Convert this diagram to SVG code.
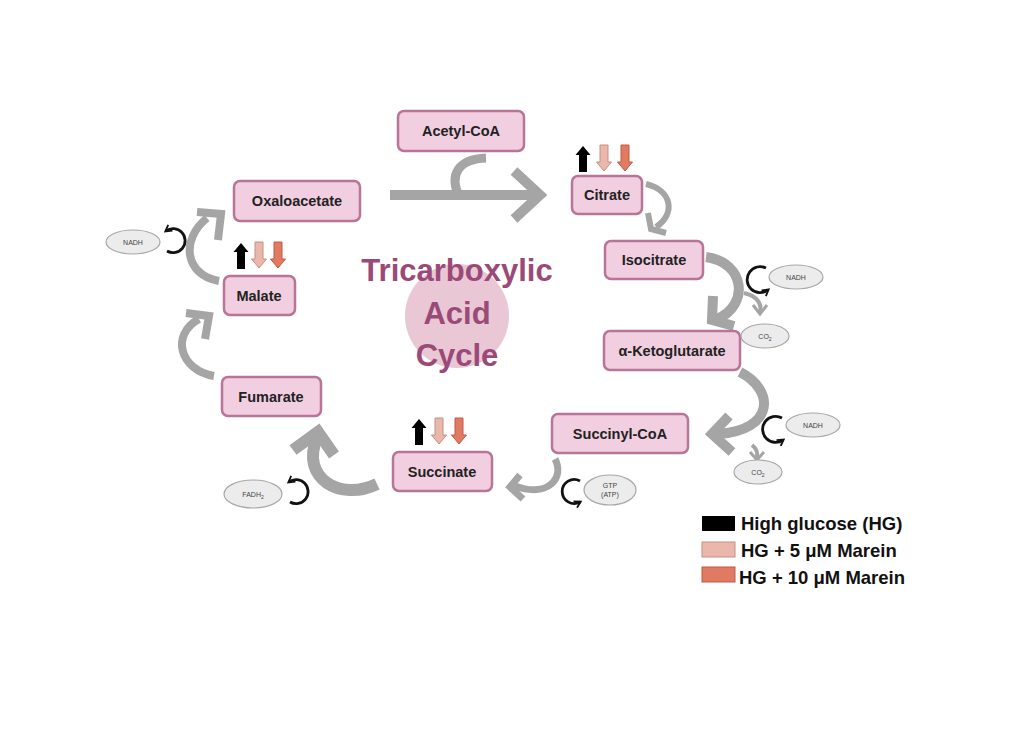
<svg xmlns="http://www.w3.org/2000/svg" width="1033" height="733" viewBox="0 0 1033 733">
<style>
.box{fill:#f1cfe0;stroke:#b97597;stroke-width:2.5}
.lbl{font-family:"Liberation Sans",Arial,sans-serif;font-weight:bold;font-size:14.5px;fill:#222;text-anchor:middle}
.title{font-family:"Liberation Sans",Arial,sans-serif;font-weight:bold;font-size:31px;fill:#9b4a78;text-anchor:middle}
.g{fill:none;stroke:#a5a5a5;stroke-linecap:butt;stroke-linejoin:miter}
.blk{fill:none;stroke:#111;stroke-width:2.8;marker-end:url(#bh)}
.ell{fill:#ececec;stroke:#a8a8a8;stroke-width:1.2}
.sm{font-family:"Liberation Sans",Arial,sans-serif;font-size:7px;fill:#444;text-anchor:middle}
.leg{font-family:"Liberation Sans",Arial,sans-serif;font-weight:bold;font-size:18.5px;fill:#111}
.up{fill:#000}
.p5{fill:#e9b7ab;stroke:#c98e83;stroke-width:1}
.p10{fill:#e07a62;stroke:#bf5a45;stroke-width:1}
</style>
<defs>
<marker id="bh" viewBox="0 0 10 10" refX="7" refY="5" markerWidth="3.2" markerHeight="3.2" orient="auto" markerUnits="strokeWidth">
<path d="M1,1 L8,5 L1,9" fill="none" stroke="#111" stroke-width="2"/>
</marker>
<path id="ua" d="M0,-13 L7.5,-4 L4,-4 L4,13 L-4,13 L-4,-4 L-7.5,-4 Z"/>
<path id="da" d="M0,13 L7.5,4 L4,4 L4,-13 L-4,-13 L-4,4 L-7.5,4 Z"/>
</defs>
<rect width="1033" height="733" fill="#fff"/>

<g id="center">
<circle cx="457" cy="316" r="52" fill="#e9c7d4"/>
<text class="title" x="457" y="281">Tricarboxylic</text>
<text class="title" x="457" y="324">Acid</text>
<text class="title" x="457" y="366">Cycle</text>
</g>

<g id="connectors">
<path class="g" stroke-width="10" d="M390,195 L540,195"/>
<path class="g" stroke-width="10" d="M514,171 L540,195 L514,219"/>
<path class="g" stroke-width="9" d="M459,196 C449,175 458,159 486,158"/>
<path class="g" stroke-width="6" d="M646,184 C672,190 676,214 656,227"/>
<path class="g" stroke-width="6" d="M648,213 L651,229 L666,233"/>
<path class="g" stroke-width="10" d="M706,257 C745,262 750,305 717,319"/>
<path class="g" stroke-width="10" d="M713,296 L712,320 L734,326"/>
<path class="g" stroke-width="4" d="M744,293 C758,296 762,305 760,312"/>
<path class="g" stroke-width="3" d="M753,305 L760,314 L767,305"/>
<path class="g" stroke-width="10" d="M740,372 C775,390 775,430 718,434"/>
<path class="g" stroke-width="10" d="M729,416 L712,434 L732,452"/>
<path class="g" stroke-width="4" d="M752,445 C757,449 758,453 757,458"/>
<path class="g" stroke-width="3" d="M750,452 L757,460 L764,452"/>
<path class="g" stroke-width="7" d="M555,459 C565,478 548,498 515,486"/>
<path class="g" stroke-width="7" d="M520,475 L510,487 L523,499"/>
<path class="g" stroke-width="12" d="M377,484 C340,502 300,478 317,438"/>
<path class="g" stroke-width="12" d="M293,450 L318,432 L334,455"/>
<path class="g" stroke-width="8" d="M214,376 C180,370 170,335 199,319"/>
<path class="g" stroke-width="8" d="M186,313 L209,316 L205,339"/>
<path class="g" stroke-width="8" d="M219,281 C185,275 180,240 207,218"/>
<path class="g" stroke-width="8" d="M197,212 L221,214 L218,240"/>
<path class="blk" d="M766,268 A13,13 0 1 0 768,290"/>
<path class="blk" d="M782,418 A13,13 0 1 0 783,440"/>
<path class="blk" d="M580,481 A12,12 0 1 0 580,502"/>
<path class="blk" d="M167,251 A12,12 0 1 0 166,231"/>
<path class="blk" d="M290,502 A12,12 0 1 0 289,482"/>
</g>

<g id="acetylcoa"><rect class="box" x="398" y="111" width="126" height="40" rx="6"/><text class="lbl" x="461" y="136">Acetyl-CoA</text></g>
<g id="oxaloacetate"><rect class="box" x="234" y="181" width="126" height="40" rx="6"/><text class="lbl" x="297" y="206">Oxaloacetate</text></g>
<g id="citrate"><rect class="box" x="572" y="176" width="70" height="38" rx="6"/><text class="lbl" x="607" y="200">Citrate</text></g>
<g id="isocitrate"><rect class="box" x="605" y="241" width="98" height="38" rx="6"/><text class="lbl" x="654" y="265">Isocitrate</text></g>
<g id="ketoglutarate"><rect class="box" x="604" y="331" width="136" height="39" rx="6"/><text class="lbl" x="672" y="356">α-Ketoglutarate</text></g>
<g id="succinylcoa"><rect class="box" x="552" y="414" width="136" height="39" rx="6"/><text class="lbl" x="620" y="439">Succinyl-CoA</text></g>
<g id="succinate"><rect class="box" x="393" y="452" width="99" height="39" rx="6"/><text class="lbl" x="442" y="477">Succinate</text></g>
<g id="fumarate"><rect class="box" x="222" y="377" width="99" height="39" rx="6"/><text class="lbl" x="271" y="402">Fumarate</text></g>
<g id="malate"><rect class="box" x="224" y="276" width="71" height="39" rx="6"/><text class="lbl" x="259" y="301">Malate</text></g>

<g id="nadh1"><ellipse class="ell" cx="133" cy="242" rx="27" ry="12"/><text class="sm" x="133" y="245">NADH</text></g>
<g id="nadh2"><ellipse class="ell" cx="796" cy="277" rx="27" ry="12"/><text class="sm" x="796" y="280">NADH</text></g>
<g id="co2a"><ellipse class="ell" cx="765" cy="336" rx="24" ry="12"/><text class="sm" x="765" y="339">CO<tspan font-size="5" dy="2">2</tspan></text></g>
<g id="nadh3"><ellipse class="ell" cx="813" cy="425" rx="27" ry="12"/><text class="sm" x="813" y="428">NADH</text></g>
<g id="co2b"><ellipse class="ell" cx="758" cy="472" rx="24" ry="12"/><text class="sm" x="758" y="475">CO<tspan font-size="5" dy="2">2</tspan></text></g>
<g id="gtp"><ellipse class="ell" cx="610" cy="490" rx="26" ry="15"/><text class="sm" x="610" y="488">GTP</text><text class="sm" x="610" y="497">(ATP)</text></g>
<g id="fadh2"><ellipse class="ell" cx="253" cy="494" rx="29" ry="14"/><text class="sm" x="253" y="497">FADH<tspan font-size="5" dy="2">2</tspan></text></g>

<g id="ind-citrate">
<use href="#ua" class="up" x="583" y="159"/>
<use href="#da" class="p5" x="604" y="158"/>
<use href="#da" class="p10" x="625" y="158"/>
</g>
<g id="ind-malate">
<use href="#ua" class="up" x="241" y="256"/>
<use href="#da" class="p5" x="259" y="255"/>
<use href="#da" class="p10" x="278" y="255"/>
</g>
<g id="ind-succinate">
<use href="#ua" class="up" x="419" y="432"/>
<use href="#da" class="p5" x="439" y="431"/>
<use href="#da" class="p10" x="459" y="431"/>
</g>

<g id="legend">
<rect x="702" y="516" width="33" height="15" fill="#000"/>
<text class="leg" x="741" y="530">High glucose (HG)</text>
<rect x="702" y="542" width="33" height="15" fill="#e9b7ab" stroke="#c98e83"/>
<text class="leg" x="741" y="557">HG + 5 μM Marein</text>
<rect x="702" y="567" width="33" height="15" fill="#e07a62" stroke="#bf5a45"/>
<text class="leg" x="739" y="584">HG + 10 μM Marein</text>
</g>
</svg>
